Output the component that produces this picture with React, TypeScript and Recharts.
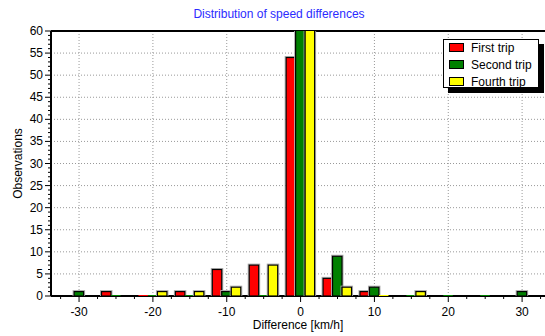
import React from 'react';
import { BarChart, Bar, XAxis, YAxis, CartesianGrid, ReferenceLine, Label } from 'recharts';

const differences = [-30, -25, -20, -15, -10, -5, 0, 5, 10, 15, 20, 25, 30];
const firstTrip = [null, 1, 0, 1, 6, 7, 54, 4, 1, null, null, null, null];
const secondTrip = [1, 0, 0, 0, 1, 0, 64, 9, 2, 0, 0, 0, 1];
const fourthTrip = [null, null, 1, 1, 2, 7, 63, 2, 0, 1, null, null, null];

const seriesNames = ['First trip', 'Second trip', 'Fourth trip'];
const seriesKeys = ['first', 'second', 'fourth'];
const seriesColors = ['#ff0000', '#008000', '#ffff00'];

const xMajorTicks = [-30, -20, -10, 0, 10, 20, 30];
const xAllTicks = [-32.5, -30, -27.5, -25, -22.5, -20, -17.5, -15, -12.5, -10, -7.5, -5, -2.5, 0, 2.5, 5, 7.5, 10, 12.5, 15, 17.5, 20, 22.5, 25, 27.5, 30, 32.5];
const yMajorTicks = [0, 5, 10, 15, 20, 25, 30, 35, 40, 45, 50, 55, 60];
const yAllTicks = Array.from({ length: 61 }, (_, i) => i);

const data = differences.map((d, i) => ({
  diff: d,
  first: firstTrip[i],
  second: secondTrip[i],
  fourth: fourthTrip[i],
}));

const FONT = '"Liberation Sans", Arial, sans-serif';

const makeShape = (key: string) => (props: any) => {
  const { x, y, width, height, fill, payload } = props;
  const v = payload ? payload[key] : null;
  if (v === null || v === undefined) return <g />;
  if (v === 0) return <rect x={x} y={y - 1} width={width} height={2} fill={fill} />;
  return (
    <g>
      <rect x={x - 1} y={y - 1} width={width + 2} height={height + 1} fill="none" stroke="#b0b0b0" strokeWidth={1} />
      <rect x={x} y={y} width={width} height={height} fill={fill} stroke="#000" strokeWidth={1.2} />
    </g>
  );
};

const XTick = (props: any) => {
  const { x, y, payload } = props;
  const v = payload.value;
  const major = xMajorTicks.includes(v);
  return (
    <g>
      <line x1={x} x2={x} y1={y} y2={y + (major ? 6 : 3)} stroke="#000" strokeWidth={1} />
      {major && (
        <text x={x} y={y + 20} textAnchor="middle" fontSize={12} fill="#000" fontFamily={FONT}>
          {v}
        </text>
      )}
    </g>
  );
};

const YTick = (props: any) => {
  const { x, y, payload } = props;
  const v = payload.value;
  const major = yMajorTicks.includes(v);
  return (
    <g>
      <line x1={x - (major ? 6 : 3)} x2={x} y1={y} y2={y} stroke="#000" strokeWidth={1} />
      {major && (
        <text x={x - 8} y={y + 4} textAnchor="end" fontSize={12} fill="#000" fontFamily={FONT}>
          {v}
        </text>
      )}
    </g>
  );
};

export default function App() {
  return (
    <div style={{ position: 'absolute', left: 0, top: 0, width: 545, height: 336, background: '#fff', fontFamily: FONT, overflow: 'hidden' }}>
      <div
        style={{
          position: 'absolute',
          left: 0,
          top: 7,
          width: 558,
          textAlign: 'center',
          fontSize: 12,
          lineHeight: '14px',
          color: '#2b2bff',
        }}
      >
        Distribution of speed differences
      </div>
      <BarChart
        width={545}
        height={336}
        data={data}
        margin={{ top: 31, right: 0, bottom: 0, left: 0 }}
        barGap={0}
        barSize={9.5}
        style={{ fontFamily: FONT }}
      >
        <CartesianGrid
          stroke="#999"
          strokeDasharray="1 2"
          horizontalValues={yMajorTicks}
          verticalValues={xMajorTicks}
        />
        <XAxis
          dataKey="diff"
          type="number"
          domain={[-33.8, 33.1]}
          allowDataOverflow
          ticks={xAllTicks}
          interval={0}
          tickSize={0}
          tickMargin={0}
          tickLine={false}
          axisLine={{ stroke: '#000', strokeWidth: 2 }}
          tick={(p: any) => <XTick {...p} />}
          height={40}
        >
          <Label value="Difference [km/h]" position="insideBottom" offset={7} fill="#000" fontSize={12} />
        </XAxis>
        <YAxis
          type="number"
          domain={[0, 60]}
          allowDataOverflow
          ticks={yAllTicks}
          interval={0}
          tickSize={0}
          tickMargin={0}
          tickLine={false}
          axisLine={{ stroke: '#000', strokeWidth: 2 }}
          tick={(p: any) => <YTick {...p} />}
          width={51}
        >
          <Label
            value="Observations"
            angle={-90}
            position="insideLeft"
            offset={18}
            fill="#000"
            fontSize={12}
            style={{ textAnchor: 'middle' }}
          />
        </YAxis>
        <ReferenceLine y={60} stroke="#000" strokeWidth={2} />
        {seriesKeys.map((k, i) => (
          <Bar
            key={k}
            dataKey={k}
            name={seriesNames[i]}
            fill={seriesColors[i]}
            shape={makeShape(k)}
            isAnimationActive={false}
            zIndex={600}
          />
        ))}
      </BarChart>
      <div
        style={{
          position: 'absolute',
          left: 443,
          top: 39,
          width: 96,
          height: 49,
          border: '1px solid #000',
          boxShadow: '5px 5px 0 #000',
          background: '#fff',
          boxSizing: 'border-box',
          paddingTop: 0,
        }}
      >
        {seriesNames.map((n, i) => (
          <div key={n} style={{ display: 'flex', alignItems: 'center', height: 17, marginTop: i === 0 ? -1 : 0 }}>
            <div
              style={{
                width: 15,
                height: 9,
                marginLeft: 5,
                marginRight: 7,
                background: seriesColors[i],
                border: '1px solid #000',
                boxSizing: 'border-box',
              }}
            />
            <span style={{ fontSize: 12, color: '#000', lineHeight: '14px' }}>{n}</span>
          </div>
        ))}
      </div>
    </div>
  );
}
